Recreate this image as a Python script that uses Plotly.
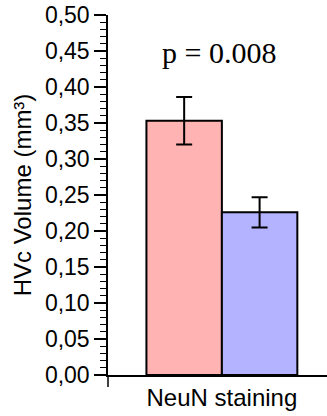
import plotly.graph_objects as go

categories = ["NeuN staining"]
group_names = ["Group A", "Group B"]
means = [0.353, 0.226]
errors = [0.033, 0.021]
colors = ["#FFB3B3", "#B3B3FF"]
p_label = "p = 0.008"
y_title = "HVc Volume (mm³)"

fig = go.Figure()
for name, m, e, c in zip(group_names, means, errors, colors):
    fig.add_trace(go.Bar(
        x=categories, y=[m], name=name,
        marker=dict(color=c, line=dict(color="black", width=2)),
        error_y=dict(type="data", array=[e], visible=True,
                     color="black", thickness=2, width=8),
    ))

fig.update_layout(
    width=327, height=416,
    margin=dict(l=108, r=0, t=15, b=41, autoexpand=False),
    paper_bgcolor="white", plot_bgcolor="white",
    barmode="group", bargap=0.311, bargroupgap=0,
    showlegend=False,
    separators=",.",
    font=dict(family="Liberation Sans, Arial, sans-serif", color="black", size=23),
    xaxis=dict(
        range=[-0.52, 0.48],
        showline=True, linecolor="black", linewidth=1.5,
        ticks="", showgrid=False, zeroline=False,
        tickfont=dict(size=24), automargin=False,
    ),
    yaxis=dict(
        range=[0, 0.5], dtick=0.05, tick0=0, tickformat=".2f",
        showline=True, linecolor="black", linewidth=1.5,
        ticks="outside", ticklen=12, tickwidth=1.5, tickcolor="black",
        minor=dict(dtick=0.01, ticks="outside", ticklen=6, tickwidth=1, tickcolor="black"),
        showgrid=False, zeroline=False, automargin=False,
        ticklabeloverflow="allow",
        tickfont=dict(size=23),
        title=dict(text=y_title, font=dict(size=24), standoff=6),
    ),
    annotations=[dict(
        text=p_label, xref="paper", yref="paper", x=0.509, y=0.897,
        showarrow=False, xanchor="center", yanchor="middle",
        font=dict(family="Liberation Serif, Times New Roman, serif", size=30, color="black"),
    )],
    shapes=[dict(type="line", xref="paper", yref="paper",
                 x0=0, x1=0, y0=0, y1=-12/360,
                 line=dict(color="black", width=1.5))],
)

# remove the browser's default 8px page margin so the figure fills the window
fig.write_html("out.html", config={"displayModeBar": False},
               post_script="document.body.style.margin='0';")
